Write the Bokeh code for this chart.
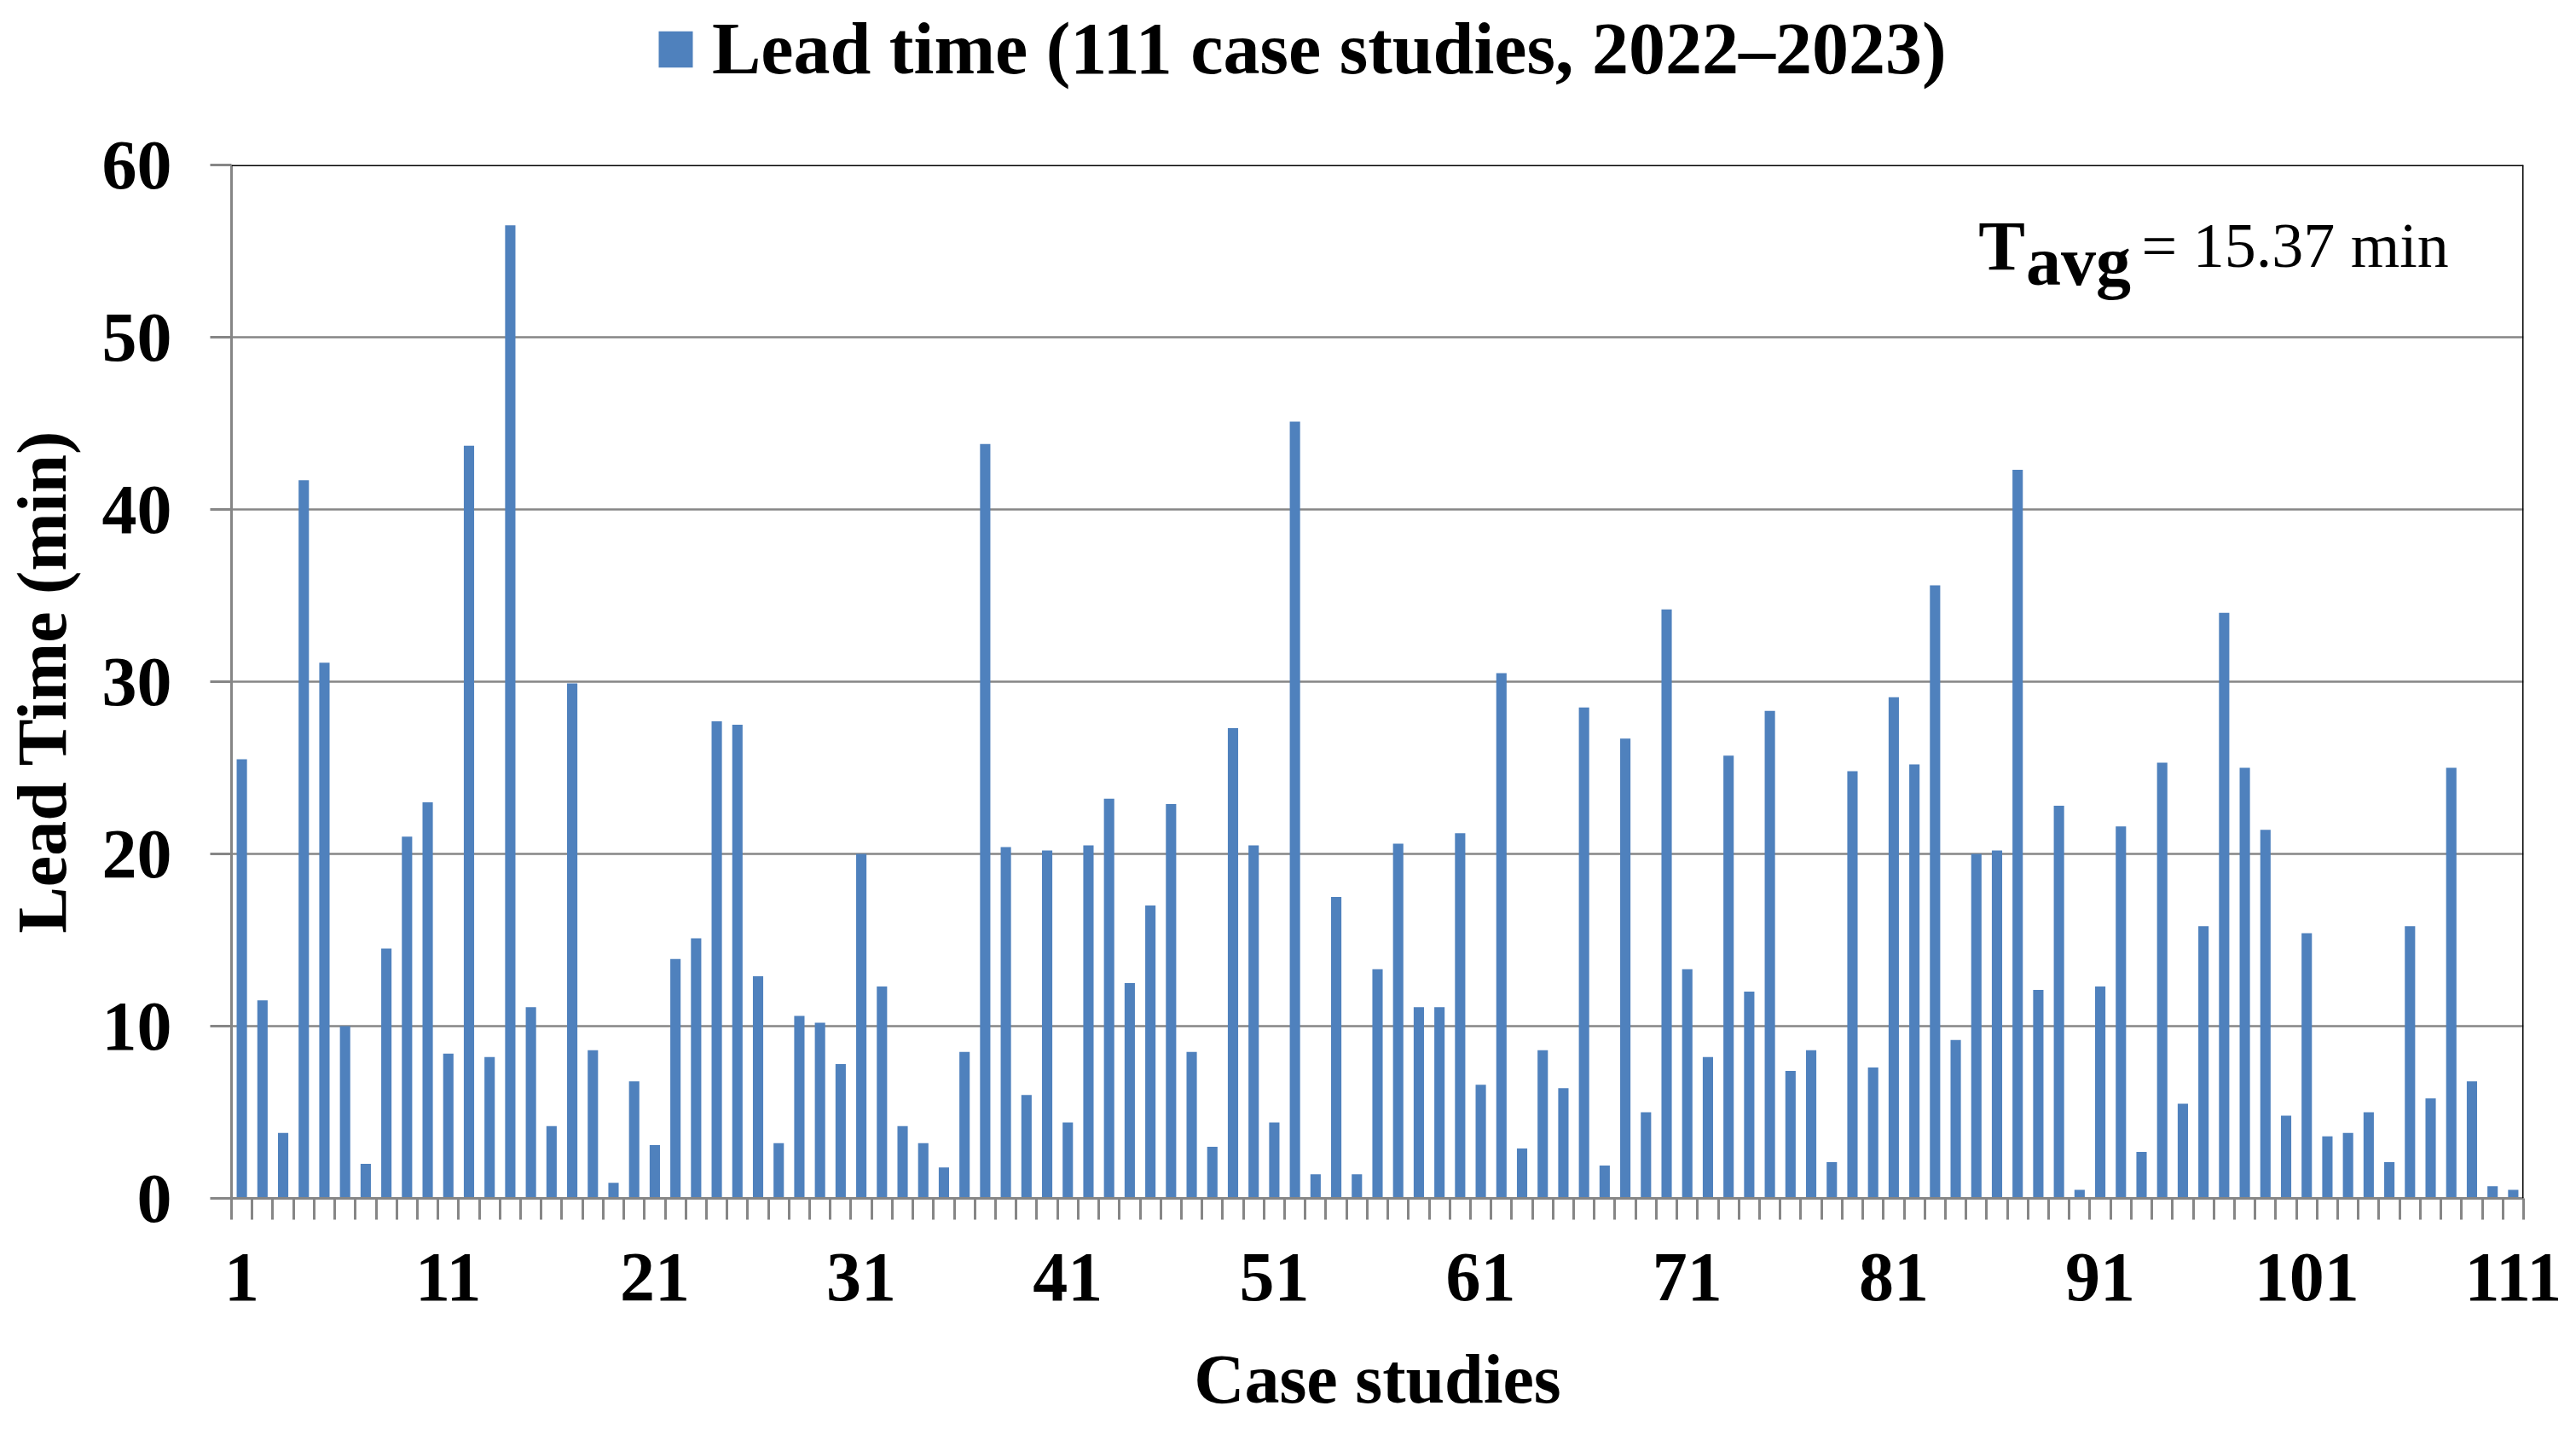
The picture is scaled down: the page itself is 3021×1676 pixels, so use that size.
from bokeh.plotting import figure
from bokeh.layouts import column
from bokeh.models import (Range1d, FixedTicker, Span, Legend, LegendItem, Label,
                          ColumnDataSource)
from bokeh.embed import file_html
from bokeh.resources import INLINE

# ---- data -------------------------------------------------------------
cases = list(range(1, 112))
lead_time = [
    25.5, 11.5, 3.8, 41.7, 31.1, 10.0, 2.0, 14.5, 21.0, 23.0,
    8.4, 43.7, 8.2, 56.5, 11.1, 4.2, 29.9, 8.6, 0.9, 6.8,
    3.1, 13.9, 15.1, 27.7, 27.5, 12.9, 3.2, 10.6, 10.2, 7.8,
    20.0, 12.3, 4.2, 3.2, 1.8, 8.5, 43.8, 20.4, 6.0, 20.2,
    4.4, 20.5, 23.2, 12.5, 17.0, 22.9, 8.5, 3.0, 27.3, 20.5,
    4.4, 45.1, 1.4, 17.5, 1.4, 13.3, 20.6, 11.1, 11.1, 21.2,
    6.6, 30.5, 2.9, 8.6, 6.4, 28.5, 1.9, 26.7, 5.0, 34.2,
    13.3, 8.2, 25.7, 12.0, 28.3, 7.4, 8.6, 2.1, 24.8, 7.6,
    29.1, 25.2, 35.6, 9.2, 20.0, 20.2, 42.3, 12.1, 22.8, 0.5,
    12.3, 21.6, 2.7, 25.3, 5.5, 15.8, 34.0, 25.0, 21.4, 4.8,
    15.4, 3.6, 3.8, 5.0, 2.1, 15.8, 5.8, 25.0, 6.8, 0.7, 0.5,
]
y_ticks = [0, 10, 20, 30, 40, 50, 60]
x_tick_cases = [1, 11, 21, 31, 41, 51, 61, 71, 81, 91, 101, 111]
x_tick_labels = ["1", "11", "21", "31", "41", "51", "61", "71", "81", "91", "101", "111"]
series_label = "Lead time (111 case studies, 2022\u20132023)"
avg_text = "= 15.37 min"
x_title = "Case studies"
y_title = "Lead Time (min)"

# ---- styles -----------------------------------------------------------
FONT = "Liberation Serif"
BAR = "#4F81BD"
GRAY = "#868686"
TOTAL_W = 3013

src = ColumnDataSource(dict(case=cases, lead=lead_time))

# ---- main chart -------------------------------------------------------
p = figure(frame_width=2688, frame_height=1212, output_backend="svg",
           toolbar_location=None,
           x_range=Range1d(0.5, 111.5), y_range=Range1d(0, 60),
           min_border_left=270, min_border_right=55, min_border_top=60,
           min_border_bottom=0)
p.outline_line_color = None
p.background_fill_color = "white"
p.border_fill_color = "white"

r = p.vbar(x="case", top="lead", width=0.5, source=src, fill_color=BAR, line_color=None)

# y axis
ya = p.yaxis[0]
ya.ticker = FixedTicker(ticks=y_ticks)
ya.axis_line_color = GRAY
ya.axis_line_width = 3
ya.major_tick_line_color = GRAY
ya.major_tick_line_width = 3
ya.major_tick_out = 25
ya.major_tick_in = 0
ya.minor_tick_line_color = None
ya.major_label_text_font = FONT
ya.major_label_text_font_style = "bold"
ya.major_label_text_font_size = "82px"
ya.major_label_text_color = "black"
ya.major_label_standoff = 45
ya.axis_label = y_title
ya.axis_label_text_font = FONT
ya.axis_label_text_font_style = "bold"
ya.axis_label_text_font_size = "82px"
ya.axis_label_text_color = "black"
ya.axis_label_standoff = 22

# x axis
xa = p.xaxis[0]
xa.ticker = FixedTicker(ticks=x_tick_cases,
                        minor_ticks=[c - 0.5 for c in cases] + [cases[-1] + 0.5])
xa.major_label_overrides = {c: t for c, t in zip(x_tick_cases, x_tick_labels)}
xa.axis_line_color = GRAY
xa.axis_line_width = 3
xa.major_tick_line_color = None
xa.major_tick_out = 25
xa.major_tick_in = 0
xa.minor_tick_line_color = GRAY
xa.minor_tick_line_width = 3
xa.minor_tick_out = 25
xa.minor_tick_in = 0
xa.major_label_text_font = FONT
xa.major_label_text_font_style = "bold"
xa.major_label_text_font_size = "82px"
xa.major_label_text_color = "black"
xa.major_label_standoff = 40
xa.axis_label = x_title
xa.axis_label_text_font = FONT
xa.axis_label_text_font_style = "bold"
xa.axis_label_text_font_size = "82px"
xa.axis_label_text_color = "black"
xa.axis_label_standoff = 44

# grid
p.xgrid.grid_line_color = None
p.ygrid.ticker = FixedTicker(ticks=y_ticks)
p.ygrid.grid_line_color = GRAY
p.ygrid.grid_line_width = 2.5

# top / right frame border
p.add_layout(Span(location=60, dimension="width", line_color="black", line_width=3))
p.add_layout(Span(location=111.5, dimension="height", line_color="black", line_width=3))

# T_avg annotation
p.add_layout(Label(x=85.1, y=55.3, text="T", text_font=FONT, text_font_style="bold",
                   text_font_size="82px", text_color="black", text_baseline="alphabetic"))
p.add_layout(Label(x=87.4, y=54.4, text="avg", text_font=FONT, text_font_style="bold",
                   text_font_size="82px", text_color="black", text_baseline="alphabetic"))
p.add_layout(Label(x=93.0, y=55.3, text=avg_text, text_font=FONT,
                   text_font_size="74px", text_color="black", text_baseline="alphabetic"))

# ---- legend strip above the chart ------------------------------------
# the same series as a zero-area glyph, only to supply the legend key
lp = figure(width=TOTAL_W, height=133, output_backend="svg", toolbar_location=None,
            x_range=Range1d(0.5, 111.5), y_range=Range1d(-2, -1),
            x_axis_location=None, y_axis_location=None, min_border=0)
lp.outline_line_color = None
lp.xgrid.visible = False
lp.ygrid.visible = False
key = lp.vbar(x="case", top="lead", bottom="lead", width=0, source=src,
              fill_color=BAR, line_color=None)
legend = Legend(items=[LegendItem(label=series_label, renderers=[key])],
                location=(496, 26), orientation="horizontal",
                label_text_font=FONT, label_text_font_style="bold",
                label_text_font_size="86px", label_text_color="black",
                label_height=100, glyph_height=53, glyph_width=50,
                label_standoff=18, padding=0, margin=0, spacing=0,
                border_line_alpha=0, background_fill_alpha=0)
lp.add_layout(legend)

layout = column(lp, p, spacing=0)
open("out.html", "w").write(file_html(layout, INLINE))
